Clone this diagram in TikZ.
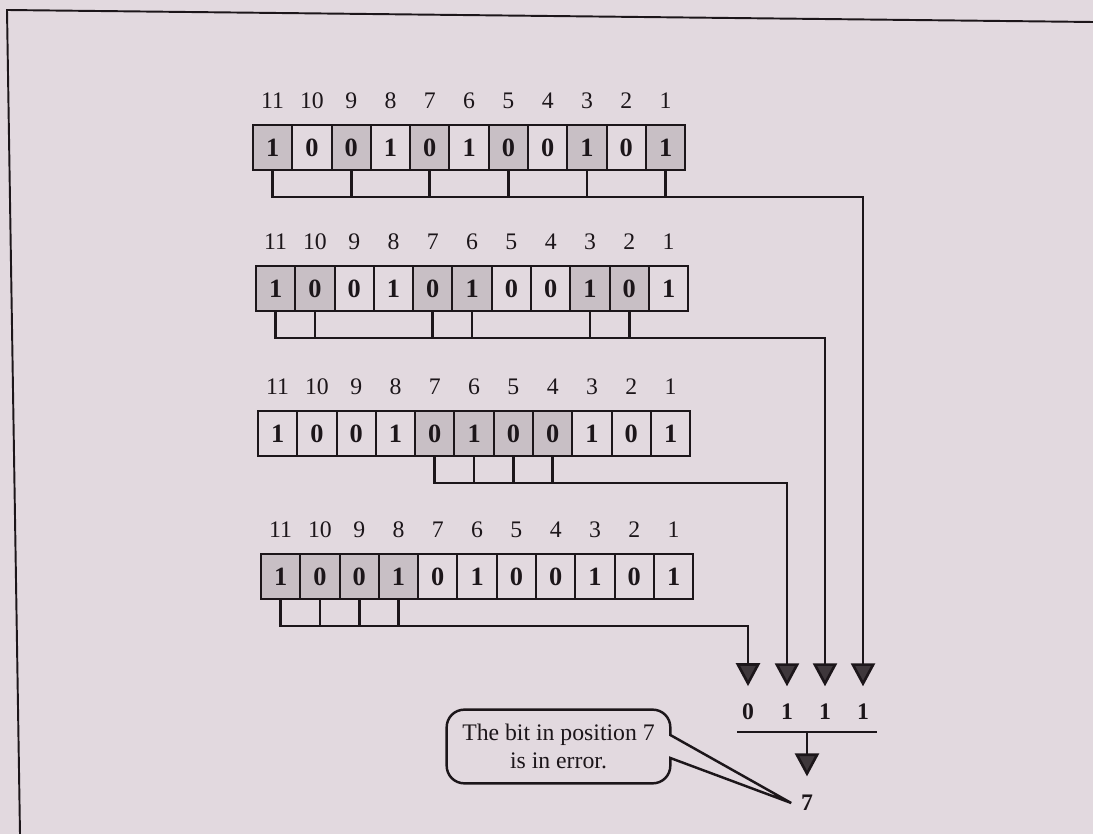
\documentclass[tikz,border=0pt]{standalone}
\usepackage{fontspec}
\setmainfont{Liberation Serif}
\usetikzlibrary{arrows.meta,positioning,calc}

\definecolor{paper}{RGB}{226,217,223}
\definecolor{shade}{RGB}{200,191,197}
\definecolor{ink}{RGB}{28,22,26}
\definecolor{tipgray}{RGB}{62,55,59}

\begin{document}
\begin{tikzpicture}[x=0.02cm, y=-0.02cm,
    cell/.style={draw=ink, line width=1.1pt, minimum width=0.786cm, minimum height=0.9cm, inner sep=0pt, text=ink, font=\fontsize{15}{15}\selectfont\bfseries},
    parcell/.style={cell, fill=shade},
    poslbl/.style={inner sep=1pt, text=ink, font=\fontsize{13.5}{13.5}\selectfont},
    resbit/.style={inner sep=2pt, text=ink, font=\fontsize{13.5}{13.5}\selectfont\bfseries},
    wire/.style={draw=ink, line width=1.5pt},
    arr/.style={wire, -{Triangle[length=0.46cm, width=0.48cm, fill=tipgray]}},
    callout/.style={draw=ink, line width=1.4pt}
]
\fill[paper] (0,0) rectangle (1093,834);
\useasboundingbox (0,0) rectangle (1093,834);

% page frame
\draw[ink, line width=1.1pt] (1093,22) -- (7,10) -- (20,834);

% syndrome bits
\node[resbit] (chk4) at (748,712) {0};
\node[resbit] (chk3) at (787,712) {1};
\node[resbit] (chk2) at (825,712) {1};
\node[resbit] (chk1) at (863,712) {1};

% the four parity checks
\foreach \r/\x/\y/\first in {1/252/124/11, 2/255/265/11, 3/257/410/7, 4/260/553/11} {
  \foreach \b [count=\i] in {1,0,0,1,0,1,0,0,1,0,1} {
    \pgfmathtruncatemacro\p{12-\i}
    \pgfmathtruncatemacro\chk{mod(floor(\p/(2^(\r-1))),2)}
    \def\sty{cell}
    \ifnum\chk=1 \def\sty{parcell}\fi
    \node[\sty, anchor=north west] (r\r-\p) at (\x+39.3*\i-39.3,\y) {\b};
    \node[poslbl, above=0.26cm of r\r-\p] (n\r-\p) {\p};
  }
  \foreach \p in {1,...,10} {
    \pgfmathtruncatemacro\chk{mod(floor(\p/(2^(\r-1))),2)}
    \ifnum\chk=1
      \ifnum\p<\first \draw[wire] (r\r-\p.south) -- ++(0,26);\fi
    \fi
  }
  \draw[arr] (r\r-\first.south) -- ++(0,26) -| ([yshift=0.28cm]chk\r.north);
}

% sum line and result
\draw[wire] (737,732) coordinate (sumL) -- (877,732) coordinate (sumR);
\coordinate (sum) at (807,732);
\node[resbit] (err) at (807,803) {7};
\draw[arr] (sum) -- ([yshift=0.3cm]err.north);

% callout
\node[align=center, text=ink, minimum width=4.46cm, minimum height=1.46cm, inner sep=0pt,
      font=\fontsize{13.5}{16}\selectfont] (msg) at (558.5,746.5) {The bit in position 7\\is in error.};
\draw[callout] ($(msg.east)+(0,-11.5)$) [rounded corners=10]
   -- (msg.north east) -- (msg.north west) -- (msg.south west) -- (msg.south east)
   [sharp corners] -- ($(msg.east)+(0,11.5)$) -- ($(err.west)+(-6,0)$) -- cycle;
\end{tikzpicture}
\end{document}
